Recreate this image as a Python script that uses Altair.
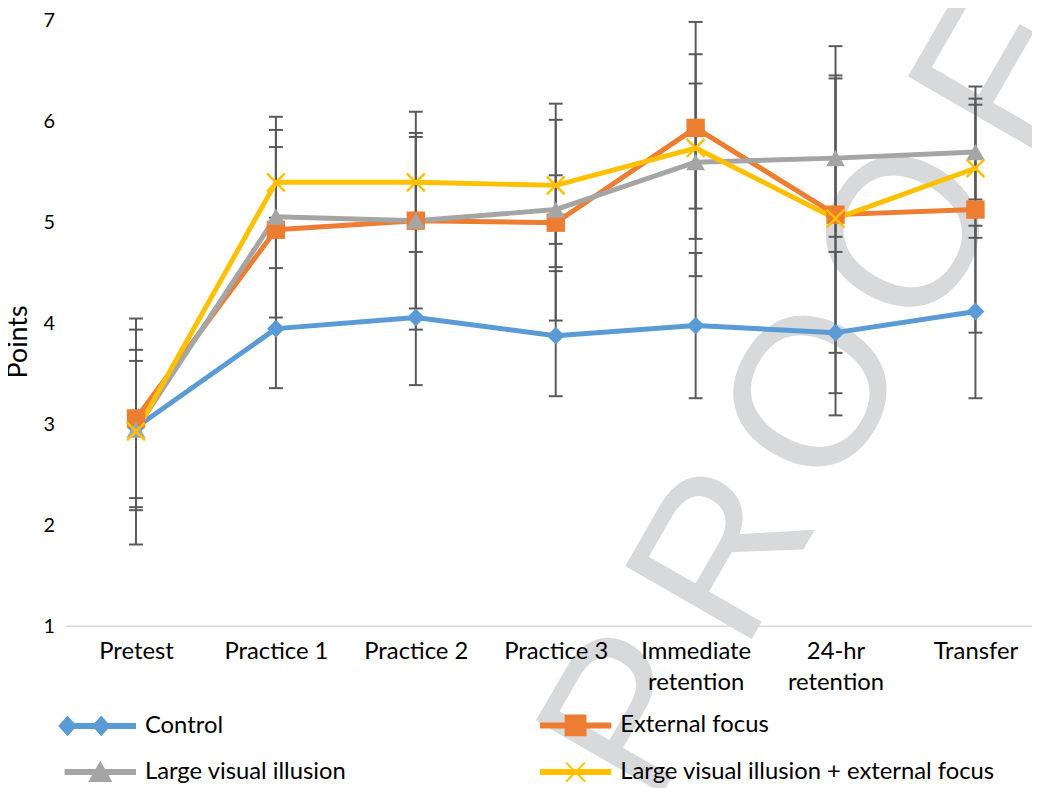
import altair as alt
import pandas as pd

categories = ["Pretest", "Practice 1", "Practice 2", "Practice 3",
              "Immediate\nretention", "24-hr\nretention", "Transfer"]
series_names = ["Control", "External focus", "Large visual illusion",
                "Large visual illusion + external focus"]
colors = ["#5B9BD5", "#ED7D31", "#A5A5A5", "#FFC000"]

control_mean = [2.97, 3.95, 4.06, 3.88, 3.98, 3.91, 4.12]
control_low = [2.15, 3.36, 3.39, 3.28, 3.26, 3.09, 3.26]
control_high = [3.74, 4.55, 4.71, 4.52, 4.70, 4.71, 4.97]

external_mean = [3.06, 4.93, 5.02, 5.00, 5.94, 5.08, 5.13]
external_low = [2.18, 3.94, 3.94, 4.03, 4.84, 3.71, 3.91]
external_high = [3.94, 5.92, 6.10, 6.02, 6.99, 6.43, 6.35]

illusion_mean = [2.95, 5.06, 5.02, 5.13, 5.60, 5.64, 5.70]
illusion_low = [2.27, 4.06, 4.15, 4.79, 4.47, 4.86, 5.23]
illusion_high = [3.63, 6.05, 5.89, 5.47, 6.67, 6.46, 6.17]

combined_mean = [2.93, 5.40, 5.40, 5.37, 5.74, 5.04, 5.54]
combined_low = [1.81, 5.05, 4.95, 4.56, 5.14, 3.31, 4.85]
combined_high = [4.05, 5.75, 5.85, 6.18, 6.38, 6.75, 6.23]

y_ticks = [1, 2, 3, 4, 5, 6, 7]
watermark_letters = ["P", "R", "O", "O", "F"]

means = [control_mean, external_mean, illusion_mean, combined_mean]
lows = [control_low, external_low, illusion_low, combined_low]
highs = [control_high, external_high, illusion_high, combined_high]

rows = []
for si, name in enumerate(series_names):
    for ci, cat in enumerate(categories):
        rows.append({"series": name, "si": si, "cat": cat, "ci": ci,
                     "mean": means[si][ci], "low": lows[si][ci], "high": highs[si][ci]})
df = pd.DataFrame(rows)

FONT = "Lato"
FS = 24
W, H = 973, 610

x_axis = alt.Axis(title=None, labelExpr="split(datum.label, '\\n')", labelAngle=0,
                  labelFont=FONT, labelFontSize=FS, labelColor="#000000",
                  labelPadding=14, labelLineHeight=31, ticks=False, domain=False,
                  grid=False, labelBaseline="top", zindex=1)
x_enc = alt.X("cat:N", sort=categories,
              scale=alt.Scale(type="point", domain=categories, range=[70, 916], padding=0),
              axis=x_axis)

y_axis = alt.Axis(title="Points", values=y_ticks, grid=False, domain=False, ticks=False,
                  labelFont=FONT, labelFontSize=20, labelColor="#000000", labelPadding=12,
                  titleFont=FONT, titleFontSize=27, titleFontWeight="normal",
                  titleColor="#000000", titleAngle=270, titleAlign="center",
                  titleBaseline="middle", titleX=-48, titleY=323, zindex=1)
y_scale = alt.Scale(domain=[1, 7], nice=False, zero=False)

# legend symbols: line segment with the marker(s)
LINE = "M-3.5,-0.2L3.5,-0.2L3.5,0.2L-3.5,0.2Z"
sym_control = LINE + "M-4.1,0L-3.3,-0.9L-2.5,0L-3.3,0.9ZM-0.7,0L0.1,-0.9L0.9,0L0.1,0.9Z"
sym_external = LINE + "M-1,-1L1,-1L1,1L-1,1Z"
sym_illusion = LINE + "M0,-0.95L1.05,0.9L-1.05,0.9Z"
sym_combined = LINE + "M-0.95,-0.95L0.95,0.95M-0.95,0.95L0.95,-0.95"
shape_expr = ("datum.value === 'Control' ? '%s' : datum.value === 'External focus' ? '%s' : "
              "datum.value === 'Large visual illusion' ? '%s' : '%s'"
              % (sym_control, sym_external, sym_illusion, sym_combined))

legend = alt.Legend(title=None, orient="none", legendX=22, legendY=698, columns=2,
                    direction="horizontal",
                    labelFont=FONT, labelFontSize=FS, labelColor="#000000", labelLimit=600,
                    symbolSize=400, symbolStrokeWidth=2, labelOffset=33,
                    rowPadding=19, columnPadding=191, padding=0, zindex=1,
                    symbolType=alt.ExprRef(expr=shape_expr),
                    symbolFillColor=alt.ExprRef(expr="scale('color', datum.value)"),
                    symbolStrokeColor=alt.ExprRef(expr="scale('color', datum.value)"),
                    symbolOpacity=1)

color_enc = alt.Color("series:N", scale=alt.Scale(domain=series_names, range=colors),
                      legend=legend)
color_nolegend = alt.Color("series:N", scale=alt.Scale(domain=series_names, range=colors),
                           legend=None)

base = alt.Chart(df)

# watermark letters (decoration behind the chart)
wm_layers = []
wm_x0, wm_y0, wm_dx, wm_dy = 572, 700, 93, -161
for i, letter in enumerate(watermark_letters):
    wm_layers.append(
        alt.Chart(alt.Data(values=[{"k": i}])).mark_text(
            text=letter, x=wm_x0 + i * wm_dx, y=wm_y0 + i * wm_dy, angle=300,
            fontSize=214, font="Liberation Sans", color="#D8D9DA",
            align="center", baseline="middle")
    )

baseline_rule = base.mark_rule(color="#D9D9D9", strokeWidth=1.5).encode(
    y=alt.Y("y1:Q", scale=y_scale, axis=y_axis),
    x=alt.value(0), x2=alt.value(W)
).transform_filter("datum.ci == 0 && datum.si == 0").transform_calculate(y1="1")

err_rule = base.mark_rule(color="#595959", strokeWidth=2).encode(
    x=x_enc,
    y=alt.Y("low:Q", scale=y_scale, axis=y_axis),
    y2="high:Q",
)
err_low = base.mark_tick(color="#595959", size=14, thickness=2, opacity=1).encode(
    x=x_enc, y=alt.Y("low:Q", scale=y_scale, axis=y_axis))
err_high = base.mark_tick(color="#595959", size=14, thickness=2, opacity=1).encode(
    x=x_enc, y=alt.Y("high:Q", scale=y_scale, axis=y_axis))

lines = base.mark_line(strokeWidth=5, strokeJoin="round", strokeCap="round").encode(
    x=x_enc,
    y=alt.Y("mean:Q", scale=y_scale, axis=y_axis),
    color=color_enc,
    detail="series:N",
    order="ci:Q",
)

filled_pts = base.mark_point(filled=True, opacity=1).encode(
    x=x_enc,
    y=alt.Y("mean:Q", scale=y_scale, axis=y_axis),
    color=color_nolegend,
    shape=alt.Shape("series:N", scale=alt.Scale(domain=series_names[:3],
                                                range=["diamond", "square", "triangle-up"]),
                    legend=None),
    size=alt.Size("series:N", scale=alt.Scale(domain=series_names[:3], range=[324, 361, 441]),
                  legend=None),
).transform_filter("datum.si < 3")

x_pts = base.mark_point(shape="M-1,-1L1,1M-1,1L1,-1", filled=False, size=324,
                        strokeWidth=2.5, opacity=1).encode(
    x=x_enc,
    y=alt.Y("mean:Q", scale=y_scale, axis=y_axis),
    color=color_nolegend,
).transform_filter("datum.si == 3")

chart = alt.layer(*wm_layers, baseline_rule, err_rule, err_low, err_high, lines,
                  filled_pts, x_pts).properties(
    width=W, height=H,
    padding={"left": 59, "top": 10, "right": 0, "bottom": 160},
    autosize=alt.AutoSizeParams(type="none"),
    background="white",
).configure_view(stroke=None)

chart.save("out.html", embed_options={"renderer": "svg", "actions": False})
